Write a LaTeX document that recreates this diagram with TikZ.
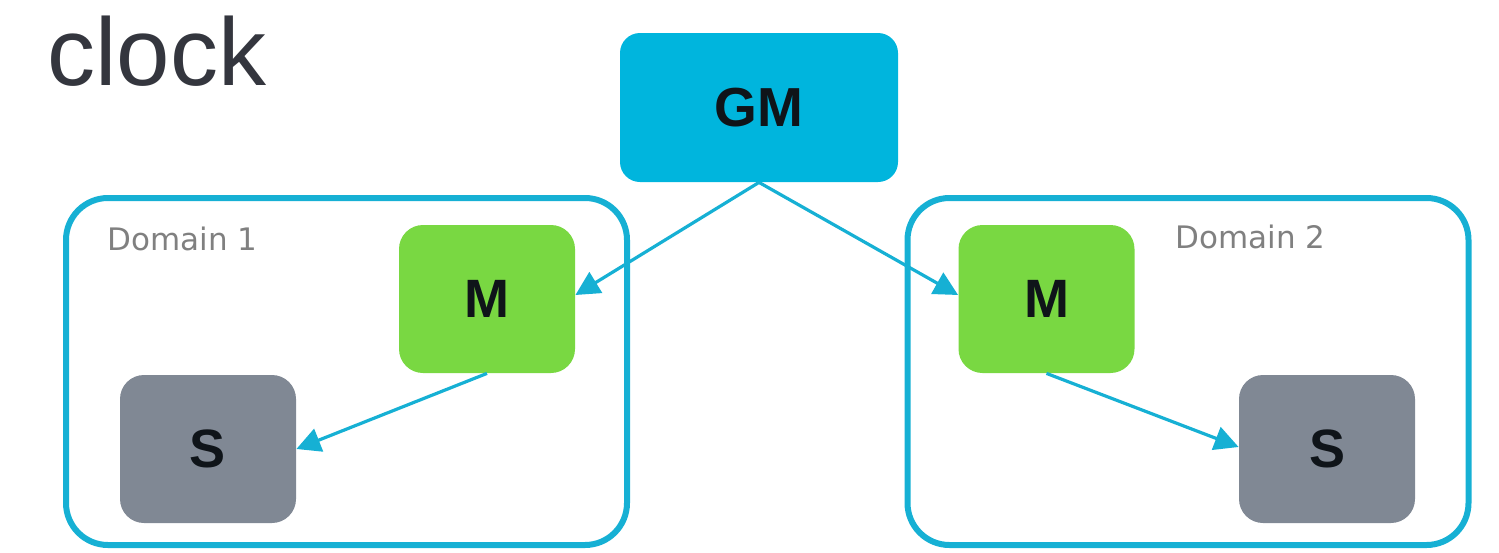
\documentclass[tikz,border=0pt]{standalone}
\usepackage{fontspec}
\setmainfont{Liberation Sans}
\newfontfamily\labelfont{DejaVu Sans}
\usetikzlibrary{arrows.meta}
\definecolor{gmcyan}{RGB}{0,181,221}
\definecolor{framecyan}{RGB}{22,176,212}
\definecolor{mgreen}{RGB}{121,216,66}
\definecolor{sgray}{RGB}{128,136,148}
\definecolor{titlegray}{RGB}{52,54,62}
\definecolor{labelgray}{RGB}{128,128,128}
\definecolor{boxtext}{RGB}{15,20,25}
\tikzset{
  gmbox/.style={draw=none, fill=gmcyan, rounded corners=10pt, minimum width=139pt, minimum height=74.5pt, inner sep=0pt, font=\fontsize{27.5}{32}\selectfont\bfseries, text=boxtext},
  mbox/.style={draw=none, fill=mgreen, rounded corners=12pt, minimum width=88pt, minimum height=74pt, inner sep=0pt, font=\fontsize{27}{32}\selectfont\bfseries, text=boxtext},
  sbox/.style={draw=none, fill=sgray, rounded corners=12pt, minimum width=88pt, minimum height=74pt, inner sep=0pt, font=\fontsize{27}{32}\selectfont\bfseries, text=boxtext},
  domainframe/.style={draw=framecyan, line width=3pt, rounded corners=21pt, minimum width=280.5pt, minimum height=173.5pt, inner sep=0pt},
  domainlabel/.style={font=\labelfont\fontsize{15.5}{19}\selectfont, text=labelgray, inner sep=0pt, anchor=base west},
  syncarrow/.style={draw=framecyan, line width=1.6pt, -{Triangle[length=12pt,width=12pt]}}
}
\begin{document}
\begin{tikzpicture}[x=0.5pt, y=-0.5pt]
\useasboundingbox (0,0) rectangle (1499,552);
\node[font=\fontsize{48}{54}\selectfont, text=titlegray, inner sep=0pt, anchor=base west] (title) at (47,85) {clock};
\node[domainframe] (D1) at (346.5,371.5) {};
\node[domainframe] (D2) at (1188,371.5) {};
\node[domainlabel] (D1label) at (107,250) {Domain 1};
\node[domainlabel] (D2label) at (1175,248) {Domain 2};
\node[gmbox] (GM) at (759,107.5) {GM};
\node[mbox] (M1) at (487,299) {M};
\node[sbox] (S1) at (208,449) {S};
\node[mbox] (M2) at (1046.5,299) {M};
\node[sbox] (S2) at (1327,449) {S};
\draw[syncarrow] (GM.south) -- ([yshift=2pt]M1.east);
\draw[syncarrow] (GM.south) -- ([yshift=2pt]M2.west);
\draw[syncarrow] (M1.south) -- (S1.east);
\draw[syncarrow] (M2.south) -- ([yshift=1pt]S2.west);
\end{tikzpicture}
\end{document}
